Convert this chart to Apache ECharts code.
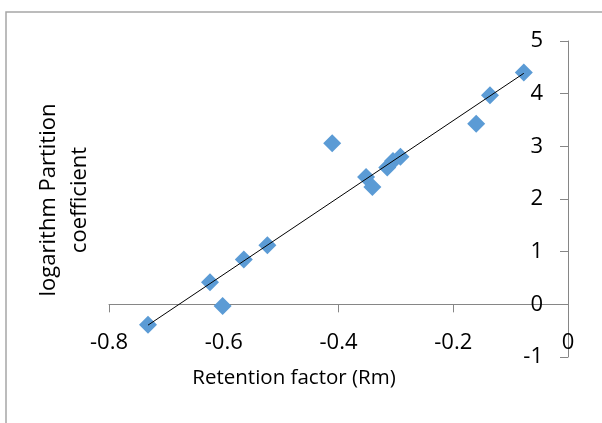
<!DOCTYPE html>
<html>
<head>
<meta charset="utf-8">
<script src="https://cdn.jsdelivr.net/npm/echarts@6/dist/echarts.min.js"></script>
<style>
  html, body { margin: 0; padding: 0; background: #fff; }
  #chart { width: 602px; height: 423px; }
</style>
</head>
<body>
<div id="chart"></div>
<script>
// Retention factor (Rm) vs log P
const rmValues = [-0.732, -0.624, -0.602, -0.565, -0.524, -0.411, -0.352, -0.341, -0.315, -0.305, -0.292, -0.160, -0.136, -0.077]
const logPValues = [-0.39, 0.42, -0.03, 0.85, 1.12, 3.06, 2.42, 2.23, 2.60, 2.72, 2.80, 3.43, 3.97, 4.40]

const xTitle = 'Retention factor (Rm)'
const yTitle = ['logarithm Partition', 'coefficient']

const font = '"Open Sans", "Noto Sans", sans-serif'

// linear trend line (least squares), like the excel one
function linearFit(xs, ys) {
    const n = xs.length
    const mx = xs.reduce((a, b) => a + b, 0) / n
    const my = ys.reduce((a, b) => a + b, 0) / n
    let sxy = 0, sxx = 0
    for (let i = 0; i < n; i++) {
        sxy += (xs[i] - mx) * (ys[i] - my)
        sxx += (xs[i] - mx) * (xs[i] - mx)
    }
    const slope = sxy / sxx
    return { slope, intercept: my - slope * mx }
}

const fit = linearFit(rmValues, logPValues)
const xLo = Math.min(...rmValues)
const xHi = Math.max(...rmValues)
const trendData = [
    [xLo, fit.intercept + fit.slope * xLo],
    [xHi, fit.intercept + fit.slope * xHi]
]

const myChart = echarts.init(document.getElementById('chart'), null, { renderer: 'canvas' })

const axisColor = '#868686'
const gridTop = 41
const gridBottom = 66
const yMin = -1
const yMax = 5
// x axis crosses at y = 0, move it up from the grid bottom
const plotH = 423 - gridTop - gridBottom
const xAxisOffset = -plotH * (0 - yMin) / (yMax - yMin)

const option = {
    animation: false,
    backgroundColor: '#fff',
    grid: {
        left: 109,
        right: 34,
        top: gridTop,
        bottom: gridBottom,
        containLabel: false,
        outerBoundsMode: 'none'
    },
    xAxis: {
        type: 'value',
        min: -0.8,
        max: 0,
        interval: 0.2,
        position: 'bottom',
        offset: xAxisOffset,
        axisLine: { onZero: false, lineStyle: { color: axisColor, width: 1 } },
        axisTick: { show: true, length: 8, lineStyle: { color: axisColor } },
        axisLabel: {
            margin: 27,
            color: '#000',
            fontSize: 22,
            fontFamily: font,
            formatter: (v) => v === 0 ? '0' : v.toFixed(1)
        },
        splitLine: { show: false }
    },
    yAxis: {
        type: 'value',
        min: yMin,
        max: yMax,
        interval: 1,
        position: 'right',
        axisLine: { show: true, onZero: false, lineStyle: { color: axisColor, width: 1 } },
        axisTick: { show: true, inside: true, length: 8, lineStyle: { color: axisColor } },
        axisLabel: {
            inside: true,
            margin: 25,
            color: '#000',
            fontSize: 22,
            fontFamily: font
        },
        splitLine: { show: false }
    },
    series: [
        {
            type: 'scatter',
            data: rmValues.map((x, i) => [x, logPValues[i]]),
            symbol: 'diamond',
            symbolSize: 18,
            itemStyle: { color: '#5b9bd5', opacity: 1 },
            z: 2
        },
        {
            type: 'line',
            data: trendData,
            symbol: 'none',
            lineStyle: { color: '#000', width: 1 },
            z: 3
        }
    ],
    graphic: [
        {
            type: 'rect',
            shape: { x: 6, y: 12, width: 700, height: 500 },
            style: { fill: 'none', stroke: '#a6a6a6', lineWidth: 1.5 },
            silent: true
        },
        {
            type: 'text',
            x: 294,
            y: 378,
            style: {
                text: xTitle,
                fill: '#000',
                font: '20.5px ' + font,
                textAlign: 'center',
                textVerticalAlign: 'middle'
            }
        },
        {
            type: 'text',
            x: 64,
            y: 200,
            rotation: Math.PI / 2,
            style: {
                text: yTitle.join('\n'),
                fill: '#000',
                font: '22px ' + font,
                lineHeight: 31,
                textAlign: 'center',
                textVerticalAlign: 'middle'
            }
        }
    ]
}

option && myChart.setOption(option)
</script>
</body>
</html>
